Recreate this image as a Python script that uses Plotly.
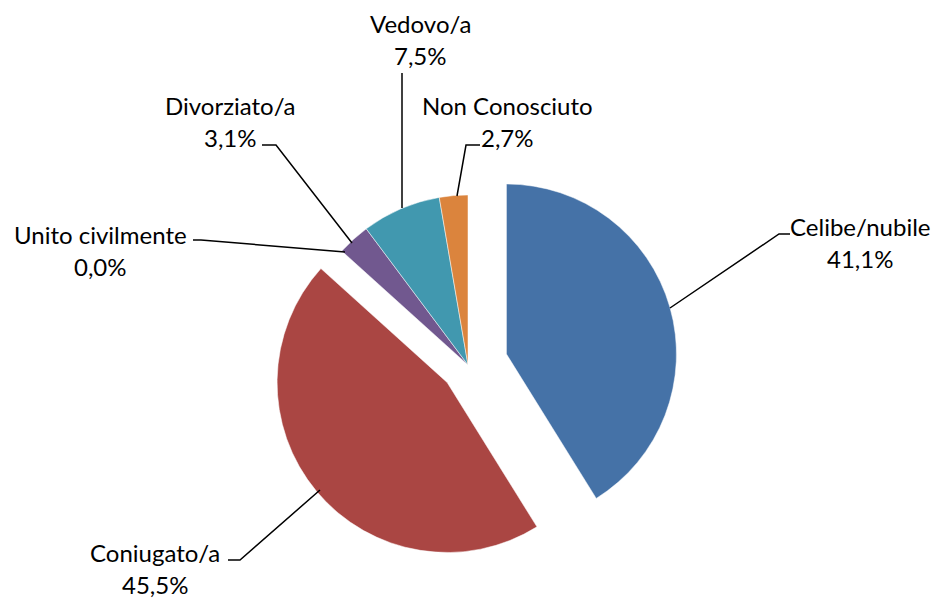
import plotly.graph_objects as go

labels = ["Celibe/nubile", "Coniugato/a", "Unito civilmente", "Divorziato/a", "Vedovo/a", "Non Conosciuto"]
values = [41.1, 45.5, 0.0, 3.1, 7.5, 2.7]
pulls = [0.235, 0.16, 0, 0, 0, 0]
colors = ["#4572A7", "#AA4643", "#A0A0A0", "#71588F", "#4198AF", "#DB843D"]

W, H = 935, 599
FONT = "Lato"

# label anchor (center of the name line) and leader line path, in pixels
label_pos = {
    "Celibe/nubile": (860, 226),
    "Coniugato/a": (155, 552),
    "Unito civilmente": (100, 234),
    "Divorziato/a": (230, 106),
    "Vedovo/a": (420, 24),
    "Non Conosciuto": (507, 106),
}
leaders = {
    "Celibe/nubile": [(790, 234), (779, 234), (670, 308)],
    "Coniugato/a": [(228, 560), (240, 560), (320, 490)],
    "Unito civilmente": [(193, 240), (201, 240), (345, 252)],
    "Divorziato/a": [(262, 145), (276, 145), (352, 243)],
    "Vedovo/a": [(402, 73), (402, 208)],
    "Non Conosciuto": [(480, 145), (466, 145), (457, 196)],
}


def px(x, y):
    return x / W, 1 - y / H


fig = go.Figure(go.Pie(
    labels=labels, values=values, pull=pulls, sort=False,
    direction="clockwise", rotation=0,
    marker=dict(colors=colors, line=dict(color="white", width=0.5)),
    textinfo="none", hoverinfo="label+percent",
    domain=dict(x=[258 / W, 678 / W], y=[24 / H, 444 / H]),
    showlegend=False,
))

annotations = []
shapes = []
for name, v in zip(labels, values):
    x, y = label_pos[name]
    pct = f"{v:.1f}".replace(".", ",") + "%"
    for txt, yy in ((name, y), (pct, y + 32)):
        ax, ay = px(x, yy)
        annotations.append(dict(
            x=ax, y=ay, xref="paper", yref="paper", text=txt, showarrow=False,
            xanchor="center", yanchor="middle", borderpad=0,
            font=dict(family=FONT, size=24, color="black"),
        ))
    pts = [px(*p) for p in leaders[name]]
    path = "M " + " L ".join(f"{a:.5f},{b:.5f}" for a, b in pts)
    shapes.append(dict(type="path", path=path, xref="paper", yref="paper",
                       line=dict(color="black", width=1.5)))

fig.update_layout(
    width=W, height=H, margin=dict(l=0, r=0, t=0, b=0),
    paper_bgcolor="white", plot_bgcolor="white",
    annotations=annotations, shapes=shapes,
)
fig.write_html("out.html", config={"displayModeBar": False},
               post_script="document.body.style.margin='0';")
